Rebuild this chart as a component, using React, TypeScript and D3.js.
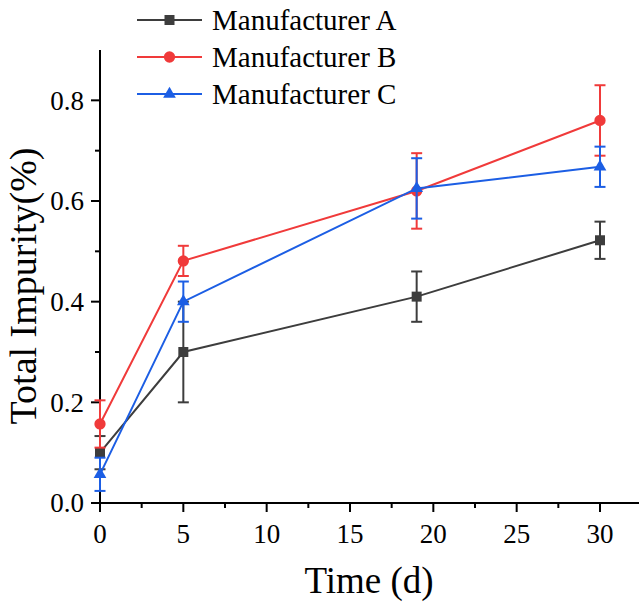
import React from 'react';
import * as d3 from 'd3';

const days = [0, 5, 19, 30];
const meanA = [0.1, 0.3, 0.41, 0.522];
const errA = [0.033, 0.1, 0.05, 0.037];
const meanB = [0.157, 0.481, 0.62, 0.76];
const errB = [0.047, 0.03, 0.075, 0.07];
const meanC = [0.057, 0.4, 0.625, 0.668];
const errC = [0.033, 0.04, 0.06, 0.04];

const names = ['Manufacturer A', 'Manufacturer B', 'Manufacturer C'];
const xTicks = [0, 5, 10, 15, 20, 25, 30];
const xMinor = [2.5, 7.5, 12.5, 17.5, 22.5, 27.5];
const yTicks = [0, 0.2, 0.4, 0.6, 0.8];
const yMinor = [0.1, 0.3, 0.5, 0.7];

const W = 639;
const H = 607;
const serif = { fontFamily: "'Liberation Serif', serif" };

const series = [
  { name: names[0], mean: meanA, err: errA, color: '#3d3d3d', shape: d3.symbolSquare, size: 100 },
  { name: names[1], mean: meanB, err: errB, color: '#f03a3a', shape: d3.symbolCircle, size: 100 },
  { name: names[2], mean: meanC, err: errC, color: '#1c5ee4', shape: d3.symbolTriangle, size: 70 }
];

export default function App () {
  const x = d3.scaleLinear().domain([0, 32.4]).range([100, 640]);
  const y = d3.scaleLinear().domain([0, 0.9]).range([503, 50]);
  const line = d3.line<number>().x((_, i) => x(days[i])).y(d => y(d));
  const cap = 5.5;

  return (
    <svg width={W} height={H} style={{ position: 'absolute', left: 0, top: 0, background: '#fff' }}>
      {/* axes */}
      <g stroke="#000" strokeWidth={2} fill="none">
        <line x1={x(0)} x2={x(0)} y1={y(0.9)} y2={y(0)} />
        <line x1={x(0) - 1} x2={x(32.4)} y1={y(0)} y2={y(0)} />
        {yTicks.map(t => <line key={'yt' + t} x1={x(0) - 9} x2={x(0)} y1={y(t)} y2={y(t)} />)}
        {yMinor.map(t => <line key={'ym' + t} x1={x(0) - 5} x2={x(0)} y1={y(t)} y2={y(t)} />)}
        {xTicks.map(t => <line key={'xt' + t} x1={x(t)} x2={x(t)} y1={y(0)} y2={y(0) + 9} />)}
        {xMinor.map(t => <line key={'xm' + t} x1={x(t)} x2={x(t)} y1={y(0)} y2={y(0) + 5} />)}
      </g>
      <g style={{ ...serif, fontSize: 27 }} fill="#000">
        {yTicks.map(t => (
          <text key={'yl' + t} x={x(0) - 16} y={y(t)} dy="0.35em" textAnchor="end">{t.toFixed(1)}</text>
        ))}
        {xTicks.map(t => (
          <text key={'xl' + t} x={x(t)} y={543} textAnchor="middle">{t}</text>
        ))}
      </g>
      <text x={369} y={593} textAnchor="middle" style={{ ...serif, fontSize: 37 }}>Time (d)</text>
      <text transform="translate(36,286) rotate(-90)" textAnchor="middle" style={{ ...serif, fontSize: 38 }}>Total Impurity(%)</text>

      {/* series */}
      {series.map(s => (
        <g key={s.name}>
          <path d={line(s.mean) || ''} fill="none" stroke={s.color} strokeWidth={2} />
          {s.mean.map((m, i) => (
            <g key={i} stroke={s.color} strokeWidth={2}>
              <line x1={x(days[i])} x2={x(days[i])} y1={y(m + s.err[i])} y2={y(m - s.err[i])} />
              <line x1={x(days[i]) - cap} x2={x(days[i]) + cap} y1={y(m + s.err[i])} y2={y(m + s.err[i])} />
              <line x1={x(days[i]) - cap} x2={x(days[i]) + cap} y1={y(m - s.err[i])} y2={y(m - s.err[i])} />
            </g>
          ))}
          {s.mean.map((m, i) => (
            <path key={'m' + i} transform={`translate(${x(days[i])},${y(m)})`}
              d={d3.symbol().type(s.shape).size(s.size)() || ''} fill={s.color} />
          ))}
        </g>
      ))}

      {/* legend */}
      {series.map((s, i) => {
        const ly = 20 + i * 37;
        return (
          <g key={'lg' + i}>
            <line x1={137} x2={202} y1={ly} y2={ly} stroke={s.color} strokeWidth={2} />
            <path transform={`translate(169.5,${ly})`} d={d3.symbol().type(s.shape).size(s.size)() || ''} fill={s.color} />
            <text x={212} y={ly + 10} style={{ ...serif, fontSize: 29 }}>{s.name}</text>
          </g>
        );
      })}
    </svg>
  );
}
